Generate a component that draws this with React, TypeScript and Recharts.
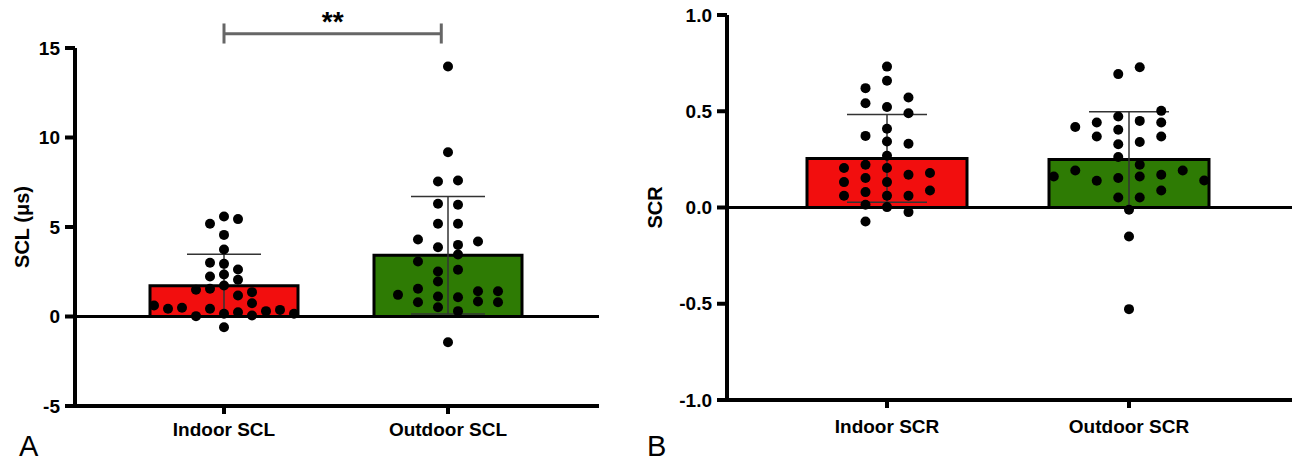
import {
  ComposedChart,
  Bar,
  Cell,
  ErrorBar,
  Scatter,
  XAxis,
  YAxis,
  ReferenceLine,
} from 'recharts';

// ---- panel A: SCL ----
const sclCategories = ['Indoor SCL', 'Outdoor SCL'];
const sclMeans = [1.72, 3.42];
const sclSd = [1.76, 3.28];
const sclTicks = [-5, 0, 5, 10, 15];

const indoorScl = [
  5.18, 5.59, 5.44, 4.56, 3.74, 3.0, 2.94, 2.63, 2.23, 2.35, 2.05, 1.49, 1.55, 1.73, 1.17,
  1.36, 0.61, 0.43, 0.49, 0.43, 0.74, 0.02, 0.15, 0.24, 0.06, 0.3, 0.37, 0.15, -0.6,
];
const indoorSclCol = [
  -1, 0, 1, 0, 0, -1, 0, 1, -1, 0, 1, -2, -1, 0, 1, 2, -5, -4, -3, -1, 2, -2, 0, 1, 2, 3, 4, 5, 0,
];
const outdoorScl = [
  13.97, 9.18, 7.54, 7.6, 6.3, 6.24, 5.18, 5.18, 4.3, 4.19, 3.87, 4.0, 3.46, 3.07, 2.51, 2.61,
  1.96, 1.21, 1.55, 1.12, 1.08, 1.41, 1.41, 0.8, 0.52, 0.84, 0.8, 0.3, -1.44,
];
const outdoorSclCol = [
  0, 0, -0.5, 0.5, -0.5, 0.5, -0.5, 0.5, -1.5, 1.5, -0.5, 0.5, 0.5, -1.5, -0.5, 0.5, -0.5, -2.5,
  -1.5, -0.5, 0.5, 1.5, 2.5, -1.5, -0.5, 1.5, 2.5, 0.5, 0,
];

// ---- panel B: SCR ----
const scrCategories = ['Indoor SCR', 'Outdoor SCR'];
const scrMeans = [0.255, 0.25];
const scrSd = [0.228, 0.248];
const scrTicks = [-1, -0.5, 0, 0.5, 1];

const indoorScr = [
  0.732, 0.658, 0.62, 0.542, 0.522, 0.571, 0.49, 0.409, 0.372, 0.343, 0.331, 0.269, 0.205,
  0.222, 0.205, 0.132, 0.153, 0.132, 0.17, 0.179, 0.061, 0.08, 0.061, 0.061, 0.088, 0.014,
  0.002, -0.024, -0.073,
];
const indoorScrCol = [
  0, 0, -1, -1, 0, 1, 1, 0, -1, 0, 1, 0, -2, -1, 0, -2, -1, 0, 1, 2, -2, -1, 0, 1, 2, -1, 0, 1, -1,
];
const outdoorScr = [
  0.729, 0.693, 0.418, 0.442, 0.369, 0.473, 0.404, 0.329, 0.262, 0.45, 0.34, 0.502, 0.442,
  0.369, 0.222, 0.161, 0.192, 0.139, 0.153, 0.161, 0.17, 0.192, 0.14, 0.052, 0.052, 0.088,
  -0.012, -0.151, -0.528,
];
const outdoorScrCol = [
  0.5, -0.5, -2.5, -1.5, -1.5, -0.5, -0.5, -0.5, -0.5, 0.5, 0.5, 1.5, 1.5, 1.5, 0.5, -3.5, -2.5,
  -1.5, -0.5, 0.5, 1.5, 2.5, 3.5, -0.5, 0.5, 1.5, 0, 0, 0,
];

const barColors = ['#F20E0E', '#2E7B04'];
const FONT = '"Liberation Sans", Arial, Helvetica, sans-serif';

const toBars = (cats: string[], means: number[], sds: number[]) =>
  cats.map((name, i) => ({ name, mean: means[i], sd: sds[i] }));

// category i sits at i + 0.5 on the hidden numeric axis
const toDots = (groups: { values: number[]; cols: number[]; step: number }[]) =>
  groups.flatMap((g, i) => g.values.map((y, k) => ({ x: i + 0.5 + g.cols[k] * g.step, y })));

const dot = (p: any) => <circle cx={p.cx} cy={p.cy} r={5} fill="#000" />;

const tickStyle = { fill: '#000', fontSize: 19, fontWeight: 700, fontFamily: FONT };
const axisStroke = { stroke: '#000', strokeWidth: 4 };

// axis + tick lines heavy like the original
const axisCss = `
.recharts-cartesian-axis line, .recharts-cartesian-axis path,
.recharts-cartesian-axis-line, .recharts-cartesian-axis-tick-line,
.recharts-xAxis line, .recharts-yAxis line {
  stroke: #000 !important; stroke-width: 4px !important;
}`;

function yTitle(text: string, dx: number) {
  return ({ viewBox }: any) => {
    const cx = viewBox.x + dx;
    const cy = viewBox.y + viewBox.height / 2;
    return (
      <text
        x={cx}
        y={cy}
        transform={`rotate(-90 ${cx} ${cy})`}
        textAnchor="middle"
        dominantBaseline="central"
        fontSize={20}
        fontWeight={700}
        fontFamily={FONT}
        fill="#000"
      >
        {text}
      </text>
    );
  };
}

interface PanelProps {
  width: number;
  height: number;
  margin: { top: number; right: number; bottom: number; left: number };
  yWidth: number;
  pad: { left: number; right: number };
  bars: { name: string; mean: number; sd: number }[];
  dots: { x: number; y: number }[];
  domain: [number, number];
  ticks: number[];
  fmt: (v: number) => string;
  barSize: number;
  capWidth: number;
  tickMargin: number;
  title: string;
  titleDx: number;
  children?: React.ReactNode;
}

function Panel(p: PanelProps) {
  return (
    <ComposedChart width={p.width} height={p.height} data={p.bars} margin={p.margin}>
      <XAxis
        xAxisId="cat"
        dataKey="name"
        padding={p.pad}
        height={40}
        stroke="#000"
        axisLine={axisStroke}
        tickLine={axisStroke}
        tickSize={8}
        tickMargin={p.tickMargin}
        tick={tickStyle}
        interval={0}
      />
      <XAxis xAxisId="num" type="number" dataKey="x" domain={[0, 2]} padding={p.pad} hide />
      <YAxis
        yAxisId="bar"
        width={p.yWidth}
        domain={p.domain}
        ticks={p.ticks}
        allowDataOverflow
        tickFormatter={p.fmt}
        stroke="#000"
        axisLine={axisStroke}
        tickLine={axisStroke}
        tickSize={10}
        tickMargin={5}
        tick={tickStyle}
        label={{ content: yTitle(p.title, p.titleDx) }}
      />
      <YAxis yAxisId="dot" dataKey="y" domain={p.domain} allowDataOverflow hide />
      <Bar
        xAxisId="cat"
        yAxisId="bar"
        dataKey="mean"
        barSize={p.barSize}
        stroke="#000"
        strokeWidth={3}
        isAnimationActive={false}
      >
        {p.bars.map((b, i) => (
          <Cell key={b.name} fill={barColors[i]} />
        ))}
        <ErrorBar dataKey="sd" width={p.capWidth} stroke="#333" strokeWidth={1.5} />
      </Bar>
      <ReferenceLine xAxisId="cat" yAxisId="bar" y={0} stroke="#000" strokeWidth={3} />
      {p.children}
      <Scatter
        xAxisId="num"
        yAxisId="dot"
        data={p.dots}
        shape={dot}
        isAnimationActive={false}
      />
    </ComposedChart>
  );
}

const sclBars = toBars(sclCategories, sclMeans, sclSd);
const scrBars = toBars(scrCategories, scrMeans, scrSd);
const sclDots = toDots([
  { values: indoorScl, cols: indoorSclCol, step: 0.0625 },
  { values: outdoorScl, cols: outdoorSclCol, step: 0.0893 },
]);
const scrDots = toDots([
  { values: indoorScr, cols: indoorScrCol, step: 0.0888 },
  { values: outdoorScr, cols: outdoorScrCol, step: 0.0888 },
]);

const bracketStroke = { stroke: '#666', strokeWidth: 3 };

const letter = (left: number): React.CSSProperties => ({
  position: 'absolute',
  left,
  top: 432,
  fontSize: 29,
  lineHeight: '29px',
  fontFamily: FONT,
  color: '#000',
});

export default function App() {
  return (
    <div
      style={{
        position: 'absolute',
        left: 0,
        top: 0,
        width: 1297,
        height: 464,
        background: '#fff',
        overflow: 'hidden',
      }}
    >
      <style>{axisCss}</style>
      <div style={{ position: 'absolute', left: 0, top: 0 }}>
        <Panel
          width={620}
          height={464}
          margin={{ top: 48, right: 21, bottom: 18, left: 0 }}
          yWidth={75}
          pad={{ left: 37, right: 39 }}
          bars={sclBars}
          dots={sclDots}
          domain={[-5, 15]}
          ticks={sclTicks}
          fmt={(v) => String(v)}
          barSize={148}
          capWidth={37}
          tickMargin={9}
          title="SCL (μs)"
          titleDx={22}
        >
          <ReferenceLine
            xAxisId="num"
            yAxisId="dot"
            ifOverflow="visible"
            segment={[
              { x: 0.5, y: 15.8 },
              { x: 1.47, y: 15.8 },
            ]}
            {...bracketStroke}
            label={{
              content: ({ viewBox }: any) => (
                <text
                  x={viewBox.x + viewBox.width / 2}
                  y={viewBox.y - 3}
                  textAnchor="middle"
                  fontSize={28}
                  fontWeight={700}
                  fontFamily={FONT}
                  fill="#000"
                >
                  **
                </text>
              ),
            }}
          />
          <ReferenceLine
            xAxisId="num"
            yAxisId="dot"
            ifOverflow="visible"
            segment={[
              { x: 0.5, y: 16.37 },
              { x: 0.5, y: 15.25 },
            ]}
            {...bracketStroke}
          />
          <ReferenceLine
            xAxisId="num"
            yAxisId="dot"
            ifOverflow="visible"
            segment={[
              { x: 1.47, y: 16.37 },
              { x: 1.47, y: 15.25 },
            ]}
            {...bracketStroke}
          />
        </Panel>
      </div>
      <div style={{ position: 'absolute', left: 640, top: 0 }}>
        <Panel
          width={657}
          height={464}
          margin={{ top: 15, right: 5, bottom: 24, left: 0 }}
          yWidth={87}
          pad={{ left: 39, right: 42 }}
          bars={scrBars}
          dots={scrDots}
          domain={[-1, 1]}
          ticks={scrTicks}
          fmt={(v) => v.toFixed(1)}
          barSize={160}
          capWidth={40}
          tickMargin={12}
          title="SCR"
          titleDx={15}
        />
      </div>
      <div style={letter(19)}>A</div>
      <div style={letter(647)}>B</div>
    </div>
  );
}
